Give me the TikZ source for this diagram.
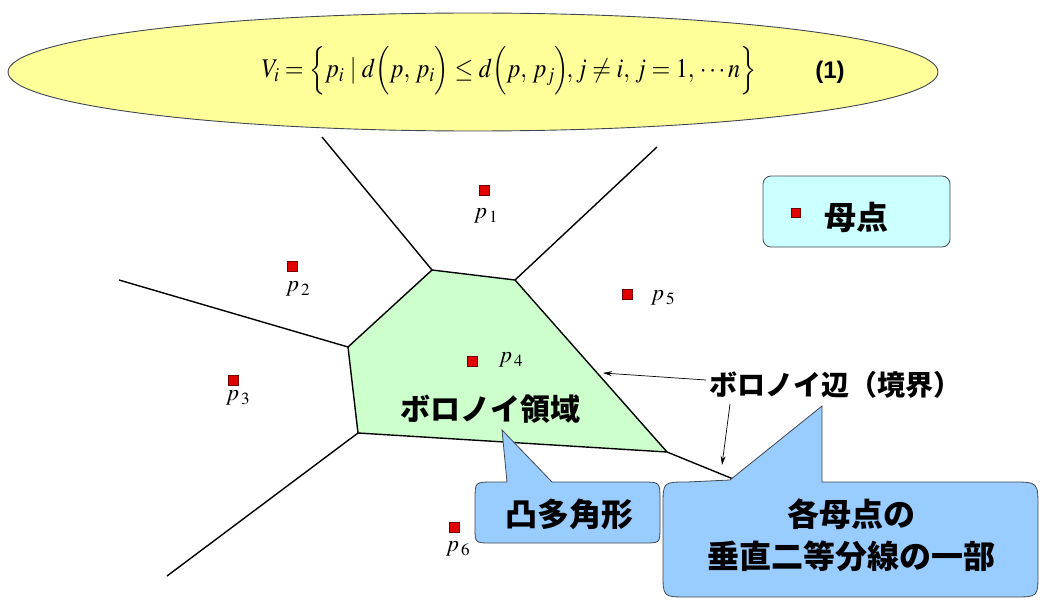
\documentclass[tikz,border=0pt]{standalone}
\usepackage{amsmath}
\usepackage{graphicx}
\usepackage{mathptmx}
\usepackage{fontspec}
\setmainfont{Liberation Serif}
\newfontfamily\cjk{Noto Sans CJK JP}
\newfontfamily\sansb{Liberation Sans}
\usetikzlibrary{arrows.meta,shapes.geometric}
\newcommand{\setfs}[1]{\fontsize{#1}{#1}\selectfont}
\definecolor{ellfill}{HTML}{FFFF99}
\definecolor{cellfill}{HTML}{CCFFCC}
\definecolor{callblue}{HTML}{99CCFF}
\definecolor{legfill}{HTML}{CCFFFF}
\definecolor{sitered}{HTML}{E00000}
\definecolor{outl}{HTML}{404850}
\begin{document}
\begin{tikzpicture}[x=1pt,y=-1pt,
  vedge/.style={line width=1.4pt,black},
  site/.style={draw=red!45!black,fill=sitered,minimum size=10pt,inner sep=0pt,line width=0.4pt},
  plab/.style={font=\setfs{23},inner sep=0pt},
  callout/.style={fill=callblue,draw=outl,line width=0.8pt},
  jlbl/.style={font=\cjk\bfseries\setfs{30},inner sep=0pt},
  jbig/.style={font=\cjk\bfseries\setfs{32},inner sep=0pt},
  pointer/.style={-{Stealth[length=9pt,width=5pt]},line width=0.7pt}]
\useasboundingbox (0,0) rectangle (1040,599);
% formula ellipse
\node[ellipse,draw=outl,fill=ellfill,line width=0.9pt,minimum width=930pt,minimum height=118pt,inner sep=0pt] (ell) at (473,72) {};
\node[font=\setfs{27},inner sep=0pt] (eq) at (509,71)
  {\scalebox{0.895}[1]{$\thickmuskip=4mu\medmuskip=3mu
   V_i = \Bigl\{ p_i \mid d\Bigl(p,\, p_i\Bigr) \le d\Bigl(p,\, p_j\Bigr)\!, j \ne i,\, j = 1,\, \cdots n \Bigr\}$}};
\node[font=\sansb\bfseries\setfs{24},inner sep=0pt] (eqno) at (830,72) {(1)};
% Voronoi vertices
\coordinate (A) at (432,270);
\coordinate (B) at (515,280);
\coordinate (R) at (667,452);
\coordinate (D) at (358,433);
\coordinate (L) at (348,347);
\coordinate (tA) at (322,137);
\coordinate (tB) at (657,147);
\coordinate (tL) at (119,280);
\coordinate (tD) at (167,576);
\coordinate (tR) at (770,494);
\fill[cellfill] (A) -- (B) -- (R) -- (D) -- (L) -- cycle;
\draw[vedge] (A) -- (B) -- (R) -- (D) -- (L) -- cycle;
\draw[vedge] (A) -- (tA);
\draw[vedge] (B) -- (tB);
\draw[vedge] (L) -- (tL);
\draw[vedge] (D) -- (tD);
\draw[vedge] (R) -- (tR);
% sites
\node[site] (s1) at (484,190) {};
\node[site] (s2) at (292,266) {};
\node[site] (s3) at (233,380) {};
\node[site] (s4) at (472,361) {};
\node[site] (s5) at (627,294) {};
\node[site] (s6) at (454,527) {};
\node[plab] (l1) at (486,216) {$p_{\,1}$};
\node[plab] (l2) at (298,289) {$p_{\,2}$};
\node[plab] (l3) at (238,398) {$p_{\,3}$};
\node[plab] (l4) at (511,360) {$p_{\,4}$};
\node[plab] (l5) at (663,298) {$p_{\,5}$};
\node[plab] (l6) at (458,549) {$p_{\,6}$};
% region label
\node[jlbl] (reg) at (490,409) {ボロノイ領域};
% small callout
\draw[callout] (507,482) -- (502,430) -- (552,482) -- (642,482) .. controls (660,482) .. (660,500)
  -- (660,527) .. controls (660,543) .. (644,543) -- (491,543) .. controls (475,543) .. (475,527)
  -- (475,500) .. controls (475,482) .. (493,482) -- cycle;
\node[jbig] (cvx) at (569,514) {凸多角形};
% big callout
\draw[callout] (730,480) -- (822,406) -- (822,482) -- (1012,482) .. controls (1038,482) .. (1038,508)
  -- (1038,573) .. controls (1038,597) .. (1014,597) -- (687,597) .. controls (663,597) .. (663,573)
  -- (663,506) .. controls (663,482) .. (687,482) -- cycle;
\node[jbig,align=center,font=\cjk\bfseries\fontsize{32}{42}\selectfont] (bis) at (851,535) {各母点の\\垂直二等分線の一部};
% edge label and arrows
\node[jlbl,font=\cjk\bfseries\setfs{28}] (edg) at (835,385) {ボロノイ辺（境界）};
\coordinate (a1s) at (706,380);
\coordinate (a1e) at (603,373);
\coordinate (a2s) at (730,404);
\coordinate (a2e) at (722,465);
\draw[pointer] (a1s) -- (a1e);
\draw[pointer] (a2s) -- (a2e);
% legend
\node[draw=outl,fill=legfill,rounded corners=8pt,line width=0.8pt,minimum width=187pt,minimum height=71pt,inner sep=0pt] (leg) at (856.5,211.5) {};
\node[site,minimum size=9pt] (legsite) at (796,213) {};
\node[jbig] (legtxt) at (856,217) {母点};
\end{tikzpicture}
\end{document}
